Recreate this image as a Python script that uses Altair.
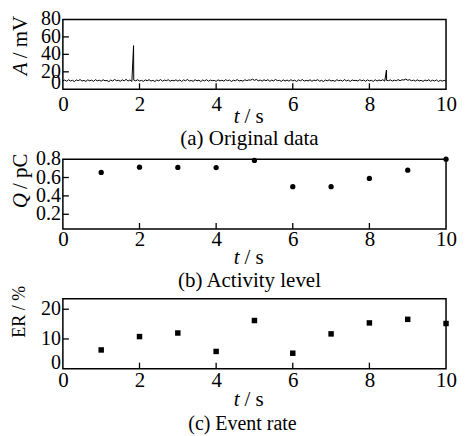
import altair as alt
import pandas as pd

FONT = "Liberation Serif"

# ---------------- data ----------------
# (a) original signal, sampled every 0.05 s, with two discharge spikes
t_a = [
    0.00, 0.05, 0.10, 0.15, 0.20, 0.25, 0.30, 0.35, 0.40, 0.45, 0.50, 0.55, 0.60, 0.65, 0.70, 0.75, 0.80, 0.85, 0.90, 0.95,
    1.00, 1.05, 1.10, 1.15, 1.20, 1.25, 1.30, 1.35, 1.40, 1.45, 1.50, 1.55, 1.60, 1.65, 1.70, 1.75, 1.80, 1.845, 1.85, 1.90, 1.95,
    2.00, 2.05, 2.10, 2.15, 2.20, 2.25, 2.30, 2.35, 2.40, 2.45, 2.50, 2.55, 2.60, 2.65, 2.70, 2.75, 2.80, 2.85, 2.90, 2.95,
    3.00, 3.05, 3.10, 3.15, 3.20, 3.25, 3.30, 3.35, 3.40, 3.45, 3.50, 3.55, 3.60, 3.65, 3.70, 3.75, 3.80, 3.85, 3.90, 3.95,
    4.00, 4.05, 4.10, 4.15, 4.20, 4.25, 4.30, 4.35, 4.40, 4.45, 4.50, 4.55, 4.60, 4.65, 4.70, 4.75, 4.80, 4.85, 4.90, 4.95,
    5.00, 5.05, 5.10, 5.15, 5.20, 5.25, 5.30, 5.35, 5.40, 5.45, 5.50, 5.55, 5.60, 5.65, 5.70, 5.75, 5.80, 5.85, 5.90, 5.95,
    6.00, 6.05, 6.10, 6.15, 6.20, 6.25, 6.30, 6.35, 6.40, 6.45, 6.50, 6.55, 6.60, 6.65, 6.70, 6.75, 6.80, 6.85, 6.90, 6.95,
    7.00, 7.05, 7.10, 7.15, 7.20, 7.25, 7.30, 7.35, 7.40, 7.45, 7.50, 7.55, 7.60, 7.65, 7.70, 7.75, 7.80, 7.85, 7.90, 7.95,
    8.00, 8.05, 8.10, 8.15, 8.20, 8.25, 8.30, 8.35, 8.40, 8.445, 8.45, 8.50, 8.55, 8.60, 8.65, 8.70, 8.75, 8.80, 8.85, 8.90, 8.95,
    9.00, 9.05, 9.10, 9.15, 9.20, 9.25, 9.30, 9.35, 9.40, 9.45, 9.50, 9.55, 9.60, 9.65, 9.70, 9.75, 9.80, 9.85, 9.90, 9.95,
    10.00,
]
amp_a = [
    9.8, 10.6, 9.2, 10.9, 9.5, 10.3, 8.9, 10.7, 9.9, 11.1, 9.4, 10.2, 9.0, 10.8, 9.7, 10.5, 9.1, 11.0, 9.6, 10.4,
    9.3, 10.9, 9.8, 10.1, 8.8, 10.6, 9.5, 11.2, 9.9, 10.3, 9.2, 10.8, 9.6, 11.4, 9.4, 10.7, 9.0, 50.0, 10.5, 9.7, 10.9,
    9.5, 10.2, 9.1, 10.8, 9.8, 11.0, 9.4, 10.3, 8.9, 10.6, 9.7, 11.1, 9.3, 10.5, 9.9, 10.9, 9.2, 10.4, 9.6, 10.8,
    9.4, 10.6, 9.0, 10.7, 9.8, 11.2, 9.5, 10.1, 9.2, 10.9, 9.7, 10.4, 8.9, 10.6, 9.6, 11.0, 9.3, 10.5, 9.9, 10.2,
    9.1, 10.8, 9.6, 10.3, 9.4, 11.0, 9.8, 10.6, 9.0, 10.4, 9.7, 11.1, 9.5, 10.2, 9.3, 10.9, 9.9, 10.7, 10.4, 11.6,
    10.2, 11.3, 9.7, 10.6, 9.4, 10.9, 9.8, 11.0, 9.2, 10.5, 9.6, 11.2, 9.9, 10.3, 9.1, 10.8, 9.5, 10.6, 9.3, 10.9,
    9.7, 10.4, 9.0, 10.7, 9.8, 11.1, 9.4, 10.2, 9.6, 10.9, 9.2, 10.5, 9.9, 11.0, 9.3, 10.3, 8.9, 10.6, 9.7, 10.8,
    9.5, 10.2, 9.1, 10.9, 9.8, 10.4, 9.3, 11.1, 9.6, 10.5, 9.0, 10.7, 9.9, 10.3, 9.4, 11.0, 9.7, 10.6, 9.2, 10.8,
    9.6, 10.3, 9.0, 10.9, 9.5, 10.6, 9.8, 11.0, 9.3, 22.0, 10.2, 9.9, 10.7, 9.4, 10.5, 9.7, 11.1, 9.8, 10.9, 10.6, 11.7,
    10.3, 11.0, 9.8, 10.5, 9.4, 10.8, 9.6, 10.2, 9.1, 10.6, 9.7, 10.9, 9.2, 10.4, 9.5, 10.7, 8.9, 10.3, 9.4, 10.1,
    9.6,
]

# (b) activity level
t_b = [1, 2, 3, 4, 5, 6, 7, 8, 9, 10]
q_b = [0.655, 0.712, 0.71, 0.708, 0.786, 0.50, 0.50, 0.59, 0.68, 0.80]

# (c) event rate
t_c = [1, 2, 3, 4, 5, 6, 7, 8, 9, 10]
er_c = [6.3, 10.8, 12.0, 5.8, 16.2, 5.2, 11.7, 15.4, 16.6, 15.2]

# axes
x_labels = [0, 2, 4, 6, 8, 10]
x_inner_ticks = [2, 4, 6, 8]
y_labels_a = [20, 40, 60, 80]
y_zero_a = [0]
y_inner_a = [20, 40, 60]
y_labels_b = [0.2, 0.4, 0.6, 0.8]
y_zero_b = []
y_inner_b = [0.2, 0.4, 0.6]
y_labels_c = [10, 20]
y_zero_c = [0]
y_inner_c = [10, 20]

# texts
x_title_t = ["t"]
x_title_rest = ["/ s"]
y_title_a = ["A", "/ mV"]
y_title_b = ["Q", "/ pC"]
y_title_c = ["ER / %"]
captions = ["(a) Original data", "(b) Activity level", "(c) Event rate"]

W, H = 384, 70
XDOM = [0, 10]
XLABEL_SIZE = 21
YLABEL_SIZE = 20
XC = W / 2  # horizontal centre of a panel


def x_axis(pad):
    return alt.Axis(values=x_labels, title=None, ticks=False, domain=False, grid=False,
                    labelFont=FONT, labelFontSize=XLABEL_SIZE, labelColor="black",
                    labelPadding=pad, labelFlush=False, labelOverlap=False, format="d")


def text_layer(s, x, y, size=21, italic=False, align="center", angle=0):
    kw = dict(font=FONT, fontSize=size, color="black", align=align, baseline="middle")
    if italic:
        kw["fontStyle"] = "italic"
    if angle:
        kw["angle"] = angle
    return alt.Chart(pd.DataFrame({"s": [s]})).mark_text(**kw).encode(
        x=alt.value(x), y=alt.value(y), text="s:N")


def decorations(yfield, ylabels, yzero, fmt, y_inner, title_parts, ytitle_x, ytitle_y, ytitle_size,
                caption, xt_y, cap_dx, cap_y, cap_size=21):
    xt = alt.Chart(pd.DataFrame({"t": x_inner_ticks})).mark_rule(color="black", strokeWidth=1.3).encode(
        x="t:Q", y=alt.value(H), y2=alt.value(H - 6))
    yt = alt.Chart(pd.DataFrame({yfield: y_inner})).mark_rule(color="black", strokeWidth=1.3).encode(
        y=f"{yfield}:Q", x=alt.value(0), x2=alt.value(6))
    ylab = alt.Chart(pd.DataFrame({yfield: ylabels})).mark_text(
        font=FONT, fontSize=YLABEL_SIZE, color="black", align="right", baseline="middle").encode(
        y=f"{yfield}:Q", x=alt.value(-2), text=alt.Text(f"{yfield}:Q", format=fmt))
    layers = [xt, yt, ylab,
              text_layer(x_title_t[0], XC - 15, H + xt_y, italic=True, align="right"),
              text_layer(x_title_rest[0], XC - 10, H + xt_y, align="left"),
              text_layer(caption, XC + cap_dx, H + cap_y, size=cap_size)]
    if yzero:
        layers.append(alt.Chart(pd.DataFrame({yfield: yzero})).mark_text(
            font=FONT, fontSize=YLABEL_SIZE, color="black", align="right", baseline="alphabetic").encode(
            y=f"{yfield}:Q", x=alt.value(-2), text=alt.Text(f"{yfield}:Q", format=fmt)))
    if len(title_parts) == 2:
        layers.append(text_layer(title_parts[0], ytitle_x, ytitle_y, size=ytitle_size,
                                 italic=True, align="right", angle=270))
        layers.append(text_layer(title_parts[1], ytitle_x, ytitle_y - 4, size=ytitle_size,
                                 align="left", angle=270))
    else:
        layers.append(text_layer(title_parts[0], ytitle_x, ytitle_y, size=ytitle_size, angle=270))
    return layers


# ---------------- panel a ----------------
df_a = pd.DataFrame({"t": t_a, "A": amp_a})
line_a = alt.Chart(df_a).mark_line(color="black", strokeWidth=1).encode(
    x=alt.X("t:Q", scale=alt.Scale(domain=XDOM, nice=False), axis=x_axis(4)),
    y=alt.Y("A:Q", scale=alt.Scale(domain=[0, 80], nice=False), axis=None),
)
panel_a = alt.layer(line_a, *decorations("A", y_labels_a, y_zero_a, "d", y_inner_a, y_title_a, -42, 43, 21,
                                         captions[0], 28, -5, 50)).properties(width=W, height=H)

# ---------------- panel b ----------------
df_b = pd.DataFrame({"t": t_b, "Q": q_b})
pts_b = alt.Chart(df_b).mark_circle(color="black", size=28, opacity=1).encode(
    x=alt.X("t:Q", scale=alt.Scale(domain=XDOM, nice=False), axis=x_axis(0)),
    y=alt.Y("Q:Q", scale=alt.Scale(domain=[0.04, 0.8], nice=False), axis=None),
)
panel_b = alt.layer(pts_b, *decorations("Q", y_labels_b, y_zero_b, ".1f", y_inner_b, y_title_b, -42, 34, 21,
                                        captions[1], 29, -5, 52)).properties(width=W, height=H)

# ---------------- panel c ----------------
df_c = pd.DataFrame({"t": t_c, "ER": er_c})
pts_c = alt.Chart(df_c).mark_square(color="black", size=30, opacity=1).encode(
    x=alt.X("t:Q", scale=alt.Scale(domain=XDOM, nice=False), axis=x_axis(1)),
    y=alt.Y("ER:Q", scale=alt.Scale(domain=[0, 23.5], nice=False), axis=None),
)
panel_c = alt.layer(pts_c, *decorations("ER", y_labels_c, y_zero_c, "d", y_inner_c, y_title_c, -43, 13, 18,
                                        captions[2], 31, -12, 55, cap_size=20)).properties(width=W, height=H)

chart = alt.vconcat(panel_a, panel_b, panel_c, spacing=70, bounds="flush").properties(
    padding={"left": 1, "top": 0, "right": 0, "bottom": 0},
    background="white",
).configure_view(stroke="black", strokeWidth=1.5)

chart.save("out.html", embed_options={"renderer": "svg", "actions": False})
